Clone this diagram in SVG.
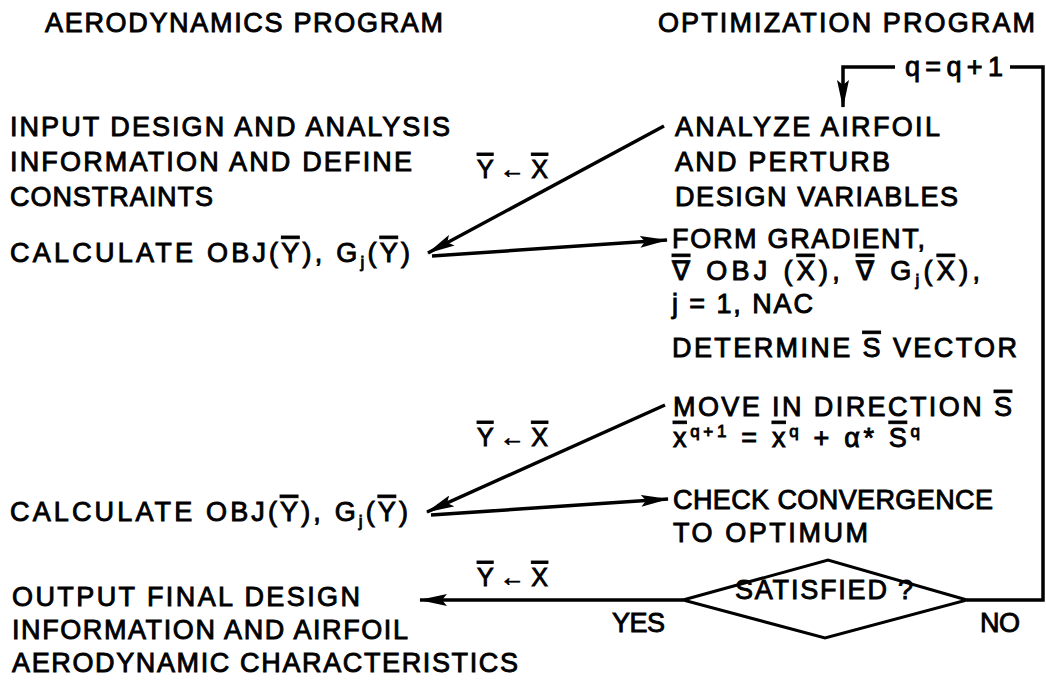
<svg xmlns="http://www.w3.org/2000/svg" width="1046" height="686" viewBox="0 0 1046 686">
<style>
text{font-family:"Liberation Sans","DejaVu Sans",sans-serif;font-size:27px;fill:#000;stroke:#000;stroke-width:0.9}
.ob{text-decoration:overline}
.sm{font-size:17px}
.lbl{font-size:25px}
.ln{fill:none;stroke:#000;stroke-width:3.5}
.dia{fill:none;stroke:#000;stroke-width:3}
</style>
<defs>
<marker id="ah" viewBox="0 0 28 12" refX="27" refY="6" markerWidth="28" markerHeight="12" markerUnits="userSpaceOnUse" orient="auto">
<path d="M0,0 L28,6 L0,12 L5,6 Z" fill="#000"/>
</marker>
</defs>
<g id="headers">
<text x="45" y="32" textLength="398">AERODYNAMICS PROGRAM</text>
<text x="658" y="32" textLength="377">OPTIMIZATION PROGRAM</text>
</g>
<g id="input">
<text x="10" y="136" textLength="440">INPUT DESIGN AND ANALYSIS</text>
<text x="10" y="171" textLength="402">INFORMATION AND DEFINE</text>
<text x="10" y="206" textLength="203">CONSTRAINTS</text>
</g>
<g id="calc1"><text x="10" y="262" textLength="400">CALCULATE OBJ(<tspan class="ob">Y</tspan>), G<tspan class="sm" dy="6">j</tspan><tspan dy="-6">(<tspan class="ob">Y</tspan>)</tspan></text></g>
<g id="calc2"><text x="10" y="521" textLength="398">CALCULATE OBJ(<tspan class="ob">Y</tspan>), G<tspan class="sm" dy="6">j</tspan><tspan dy="-6">(<tspan class="ob">Y</tspan>)</tspan></text></g>
<g id="output">
<text x="12" y="606" textLength="348">OUTPUT FINAL DESIGN</text>
<text x="12" y="639" textLength="396">INFORMATION AND AIRFOIL</text>
<text x="12" y="672" textLength="506">AERODYNAMIC CHARACTERISTICS</text>
</g>
<g id="analyze">
<text x="675" y="136" textLength="265">ANALYZE AIRFOIL</text>
<text x="675" y="171" textLength="215">AND PERTURB</text>
<text x="675" y="206" textLength="283">DESIGN VARIABLES</text>
</g>
<g id="gradient">
<text x="672" y="248" textLength="253">FORM GRADIENT,</text>
<text x="672" y="280" textLength="308"><tspan class="ob">∇</tspan> OBJ (<tspan class="ob">X</tspan>), <tspan class="ob">∇</tspan> G<tspan class="sm" dy="6">j</tspan><tspan dy="-6">(<tspan class="ob">X</tspan>),</tspan></text>
<text x="672" y="313" textLength="141">j = 1, NAC</text>
</g>
<g id="determine"><text x="672" y="357" textLength="345">DETERMINE <tspan class="ob">S</tspan> VECTOR</text></g>
<g id="move">
<text x="673" y="416" textLength="339">MOVE IN DIRECTION <tspan class="ob">S</tspan></text>
<text x="673" y="447" textLength="247"><tspan class="ob">x</tspan><tspan class="sm" dy="-10">q+1</tspan><tspan dy="10"> = </tspan><tspan class="ob">x</tspan><tspan class="sm" dy="-10">q</tspan><tspan dy="10"> + α* </tspan><tspan class="ob">S</tspan><tspan class="sm" dy="-10">q</tspan></text>
</g>
<g id="check">
<text x="673" y="509" textLength="320">CHECK CONVERGENCE</text>
<text x="673" y="542" textLength="195">TO OPTIMUM</text>
</g>
<g id="satisfied">
<path class="dia" d="M683,600 L828,560 L967,600 L825,638 Z"/>
<text x="735" y="599" textLength="178">SATISFIED ?</text>
</g>
<g id="connectors">
<path class="ln" d="M664,126 L428,253" marker-end="url(#ah)"/>
<path class="ln" d="M432,256 L667,240" marker-end="url(#ah)"/>
<path class="ln" d="M665,405 L427,512" marker-end="url(#ah)"/>
<path class="ln" d="M431,515 L668,499" marker-end="url(#ah)"/>
<path class="ln" d="M683,600 L420,600" marker-end="url(#ah)"/>
<path class="ln" d="M967,600 H1043 V67 H1010"/>
<path class="ln" d="M895,67 H843 V107" marker-end="url(#ah)"/>
<text x="905" y="76" font-size="25" textLength="98">q = q + 1</text>
<text class="lbl" x="477" y="178" textLength="71"><tspan class="ob">Y</tspan> ← <tspan class="ob">X</tspan></text>
<text class="lbl" x="477" y="446" textLength="71"><tspan class="ob">Y</tspan> ← <tspan class="ob">X</tspan></text>
<text class="lbl" x="477" y="586" textLength="71"><tspan class="ob">Y</tspan> ← <tspan class="ob">X</tspan></text>
<text x="612" y="632" textLength="53">YES</text>
<text x="980" y="632" textLength="40">NO</text>
</g>
</svg>
